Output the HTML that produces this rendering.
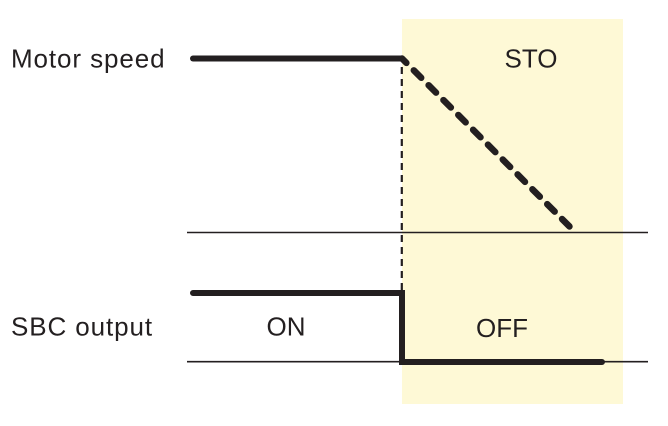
<!DOCTYPE html>
<html>
<head>
<meta charset="utf-8">
<style>
  html, body { margin: 0; padding: 0; background: #ffffff; }
  body { width: 668px; height: 426px; overflow: hidden; }
  svg { display: block; }
  text { font-family: "Liberation Sans", Arial, sans-serif; fill: #231f20; }
</style>
</head>
<body>
<svg width="668" height="426" viewBox="0 0 668 426" xmlns="http://www.w3.org/2000/svg">
  <!-- STO region -->
  <rect x="402" y="19" width="221" height="385" fill="#fef9d6"/>

  <!-- thin baselines -->
  <line x1="187" y1="232.5" x2="648" y2="232.5" stroke="#231f20" stroke-width="1.6"/>
  <line x1="187" y1="361.7" x2="648" y2="361.7" stroke="#231f20" stroke-width="1.6"/>

  <!-- vertical dotted marker -->
  <line x1="401.8" y1="67" x2="401.8" y2="292" stroke="#231f20" stroke-width="2.2" stroke-dasharray="7 5"/>

  <!-- motor speed solid -->
  <line x1="193" y1="58.5" x2="402" y2="58.5" stroke="#231f20" stroke-width="6" stroke-linecap="round"/>
  <!-- motor speed dashed ramp -->
  <path d="M402,58.5 L571,228" fill="none" stroke="#231f20" stroke-width="6.5" stroke-linecap="round" stroke-dasharray="10.5 10.5" stroke-dashoffset="4.3"/>

  <!-- SBC output step -->
  <path d="M193,293 L402,293 L402,362 L602,362" fill="none" stroke="#231f20" stroke-width="6" stroke-linecap="round" stroke-linejoin="miter"/>

  <!-- labels -->
  <text x="11" y="67.7" font-size="26" letter-spacing="0.9">Motor speed</text>
  <text x="11" y="335.7" font-size="26" letter-spacing="0.9">SBC output</text>
  <text x="531" y="67.7" font-size="26" text-anchor="middle">STO</text>
  <text x="286" y="335.7" font-size="26" text-anchor="middle">ON</text>
  <text x="502" y="337" font-size="26" text-anchor="middle">OFF</text>
</svg>
</body>
</html>
